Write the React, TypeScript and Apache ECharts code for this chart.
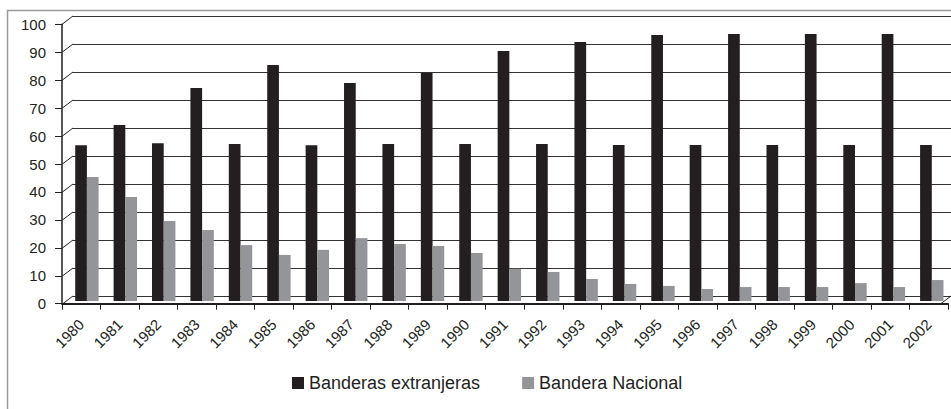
import React, { useEffect, useRef } from "react";
import * as echarts from "echarts";

const years = ["1980","1981","1982","1983","1984","1985","1986","1987","1988","1989","1990","1991","1992","1993","1994","1995","1996","1997","1998","1999","2000","2001","2002"];
const extranjeras = [55.7, 63.0, 56.5, 76.2, 56.2, 84.5, 55.7, 78.0, 56.2, 81.7, 56.2, 89.5, 56.2, 92.7, 55.8, 95.2, 55.8, 95.6, 55.8, 95.6, 55.8, 95.6, 55.8];
const nacional = [44.4, 37.2, 28.6, 25.4, 20.0, 16.5, 18.3, 22.5, 20.4, 19.7, 17.2, 11.5, 10.4, 7.9, 6.1, 5.4, 4.3, 5.0, 5.0, 5.0, 6.4, 5.0, 7.5];
const yTicks = [0, 10, 20, 30, 40, 50, 60, 70, 80, 90, 100];
const seriesNames = ["Banderas extranjeras", "Bandera Nacional"];

const FONT = "'Liberation Sans', Arial, Helvetica, sans-serif";
const TEXT = "#231f20";

export default function App() {
  const ref = useRef<HTMLDivElement>(null);
  useEffect(() => {
    if (!ref.current) return;
    const chart = echarts.init(ref.current, undefined, { renderer: "svg" });
    const W = 886;
    const hidden = { show: false };
    chart.setOption({
      animation: false,
      backgroundColor: "#ffffff",
      textStyle: { fontFamily: FONT },
      graphic: [
        {
          type: "rect",
          shape: { x: 7.5, y: 10.5, width: 980, height: 430 },
          style: { fill: "none", stroke: "#9a9a9a", lineWidth: 1.5 },
          silent: true,
          z: 100,
        },
      ],
      legend: {
        data: seriesNames,
        left: 287,
        top: 369,
        itemWidth: 12,
        itemHeight: 12,
        itemGap: 42,
        icon: "rect",
        textStyle: { fontSize: 18, color: TEXT, fontFamily: FONT },
      },
      grid: [
        { left: 62, top: 24.3, width: W, height: 279.4 },
        { left: 73, top: 16, width: W, height: 280 },
        { left: 67.7, top: 21.6, width: W, height: 279.4 },
      ],
      xAxis: [
        {
          gridIndex: 0,
          type: "category",
          data: years,
          boundaryGap: true,
          axisLine: { show: true, lineStyle: { color: "#231f20", width: 2 } },
          axisTick: { show: true, length: 6, lineStyle: { color: "#231f20", width: 1 } },
          axisLabel: { show: true, rotate: 45, margin: 18, fontSize: 15, color: TEXT, fontFamily: FONT, interval: 0 },
          splitLine: hidden,
        },
        {
          gridIndex: 1,
          type: "category",
          data: years,
          axisLine: hidden, axisTick: hidden, axisLabel: hidden, splitLine: hidden,
        },
        {
          gridIndex: 2,
          type: "category",
          data: years,
          axisLine: hidden, axisTick: hidden, axisLabel: hidden, splitLine: hidden,
        },
      ],
      yAxis: [
        {
          gridIndex: 0,
          type: "value",
          min: 0, max: 100, interval: 10,
          axisLine: { show: true, lineStyle: { color: "#231f20", width: 1.5 } },
          axisTick: { show: true, length: 7, lineStyle: { color: "#231f20", width: 1 } },
          axisLabel: { show: true, margin: 16, fontSize: 15, color: TEXT, fontFamily: FONT },
          splitLine: hidden,
        },
        {
          gridIndex: 1,
          type: "value",
          min: 0, max: 100, interval: 10,
          axisLine: hidden, axisTick: hidden, axisLabel: hidden,
          splitLine: { show: true, lineStyle: { color: "#333333", width: 1 } },
        },
        {
          gridIndex: 2,
          type: "value",
          min: 0, max: 100, interval: 10,
          axisLine: hidden, axisTick: hidden, axisLabel: hidden, splitLine: hidden,
        },
      ],
      series: [
        {
          type: "custom",
          name: "wall",
          xAxisIndex: 1,
          yAxisIndex: 1,
          silent: true,
          clip: false,
          z: 1,
          data: yTicks.map((v) => [0, v]),
          renderItem: (params: any, api: any) => {
            const v = api.value(1);
            const p = api.coord([0, v]);
            const half = api.size([1, 0])[0] / 2;
            const left = p[0] - half;
            const children: any[] = [
              {
                type: "line",
                shape: { x1: left - 11, y1: p[1] + 8.3, x2: left, y2: p[1] },
                style: { stroke: "#231f20", lineWidth: 1 },
              },
            ];
            if (v === 0) {
              const right = left + half * 2 * years.length;
              children.push({
                type: "line",
                shape: { x1: right - 11, y1: p[1] + 8.3, x2: right, y2: p[1] },
                style: { stroke: "#231f20", lineWidth: 1 },
              });
            }
            return { type: "group", children };
          },
        },
        {
          type: "bar",
          name: seriesNames[0],
          xAxisIndex: 2,
          yAxisIndex: 2,
          data: extranjeras,
          barWidth: 11.7,
          barGap: "0%",
          itemStyle: { color: "#231f20" },
          z: 3,
        },
        {
          type: "bar",
          name: seriesNames[1],
          xAxisIndex: 2,
          yAxisIndex: 2,
          data: nacional,
          barWidth: 11.7,
          barGap: "0%",
          itemStyle: { color: "#939598" },
          z: 3,
        },
      ],
    });
    return () => chart.dispose();
  }, []);
  return (
    <div
      ref={ref}
      style={{ position: "absolute", left: 0, top: 0, width: 951, height: 409 }}
    />
  );
}
